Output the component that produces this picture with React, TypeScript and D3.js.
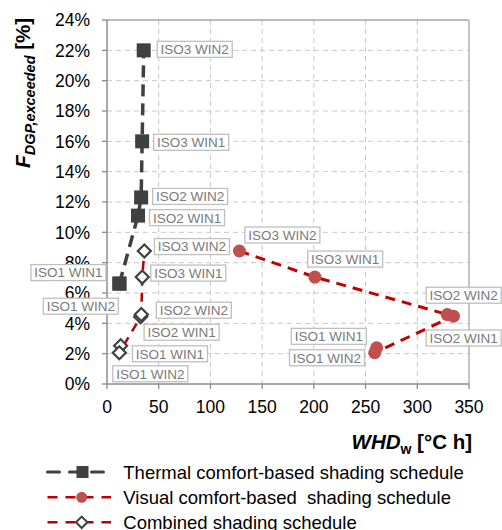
import React from "react";
import * as d3 from "d3";

// ---- data ----
const pointNames = ["ISO1 WIN1", "ISO1 WIN2", "ISO2 WIN1", "ISO2 WIN2", "ISO3 WIN1", "ISO3 WIN2"];
const thermalWHD = [12, 12, 30, 33, 34, 35.5];
const thermalFDGP = [6.62, 6.62, 11.1, 12.3, 16.0, 22.0];
const visualWHD = [260.7, 258.8, 335, 329, 201, 128];
const visualFDGP = [2.39, 2.06, 4.47, 4.58, 7.05, 8.77];
const combinedWHD = [13.2, 11.9, 32.5, 33.2, 34.1, 36.1];
const combinedFDGP = [2.52, 2.06, 4.43, 4.58, 7.05, 8.77];
const xTicks = [0, 50, 100, 150, 200, 250, 300, 350];
const yTicks = [0, 2, 4, 6, 8, 10, 12, 14, 16, 18, 20, 22, 24];
const legendLabels = [
  "Thermal comfort-based shading schedule",
  "Visual comfort-based  shading schedule",
  "Combined shading schedule",
];

// label offsets (px, label center relative to point) — layout only
const thermalLabelOff = [[-51, -11], [-38.6, 22.6], [49, 2], [49, -1], [49, 1], [51, -1]];
const visualLabelOff = [[-47.8, -11.4], [-47.7, 5], [10.2, 21.8], [16.4, -19.3], [30.3, -18], [43, -16]];
const combinedLabelOff = [[49.3, 8], [31, 21], [41, 15.4], [52.5, -4.3], [46, -4], [47.6, -4.4]];

const W = 502;
const H = 530;
const FONT = "'Liberation Sans', Arial, sans-serif";
const DARK = "#404040";
const RED_LINE = "#c00000";
const RED_MARK = "#c0504d";

type Pt = { name: string; x: number; y: number; off: number[] };

function build(xs: number[], ys: number[], offs: number[][]): Pt[] {
  return pointNames.map((n, i) => ({ name: n, x: xs[i], y: ys[i], off: offs[i] }));
}

export default function App() {
  const x = d3.scaleLinear().domain([0, 350]).range([107, 469]);
  const y = d3.scaleLinear().domain([0, 24]).range([384, 20]);

  const thermal = build(thermalWHD, thermalFDGP, thermalLabelOff);
  const visual = build(visualWHD, visualFDGP, visualLabelOff);
  const combined = build(combinedWHD, combinedFDGP, combinedLabelOff);

  const line = d3
    .line<Pt>()
    .x((d) => x(d.x))
    .y((d) => y(d.y));

  const diamond = (cx: number, cy: number, r: number) =>
    `M${cx},${cy - r}L${cx + r},${cy}L${cx},${cy + r}L${cx - r},${cy}Z`;

  const labelBox = (p: Pt, key: string) => {
    const cx = x(p.x) + p.off[0];
    const cy = y(p.y) + p.off[1];
    const bw = 75;
    const bh = 16;
    return (
      <g key={key}>
        <rect x={cx - bw / 2} y={cy - bh / 2} width={bw} height={bh} fill="#fff" stroke="#bfbfbf" strokeWidth={1.3} />
        <text x={cx} y={cy + 4.9} textAnchor="middle" fontSize={13.5} fill="#7a7a7a" fontFamily={FONT}>
          {p.name}
        </text>
      </g>
    );
  };

  const [x0, x1] = x.range();
  const [y0, y1] = y.range();

  return (
    <svg width={W} height={H} style={{ position: "absolute", left: 0, top: 0, display: "block", background: "#fff" }} fontFamily={FONT}>
      {/* grid */}
      {xTicks.slice(1, -1).map((t) => (
        <line key={"gx" + t} x1={x(t)} x2={x(t)} y1={y1} y2={y0} stroke="#c8c8c8" strokeWidth={1} strokeDasharray="5 4" />
      ))}
      {yTicks.slice(1, -1).map((t) => (
        <line key={"gy" + t} x1={x0} x2={x1} y1={y(t)} y2={y(t)} stroke="#c8c8c8" strokeWidth={1} strokeDasharray="5 4" />
      ))}
      {/* frame */}
      <line x1={x0} x2={x1} y1={y1} y2={y1} stroke="#a6a6a6" strokeWidth={1.3} />
      <line x1={x1} x2={x1} y1={y1} y2={y0} stroke="#a6a6a6" strokeWidth={1.3} />
      <line x1={x0} x2={x0} y1={y1} y2={y0} stroke="#8c8c8c" strokeWidth={1.5} />
      <line x1={x0} x2={x1} y1={y0} y2={y0} stroke="#8c8c8c" strokeWidth={1.5} />
      {/* ticks */}
      {xTicks.map((t) => (
        <g key={"xt" + t}>
          <line x1={x(t)} x2={x(t)} y1={y0} y2={y0 + 5} stroke="#8c8c8c" strokeWidth={1.3} />
          <text x={x(t)} y={412.5} textAnchor="middle" fontSize={17.5} fill="#000">
            {t}
          </text>
        </g>
      ))}
      {yTicks.map((t) => (
        <g key={"yt" + t}>
          <line x1={x0 - 5} x2={x0} y1={y(t)} y2={y(t)} stroke="#8c8c8c" strokeWidth={1.3} />
          <text x={90} y={y(t) + 6.3} textAnchor="end" fontSize={17.5} fill="#000">
            {t + "%"}
          </text>
        </g>
      ))}
      {/* axis titles */}
      <text x={472} y={448.5} textAnchor="end" fontWeight="bold" fill="#000" style={{ whiteSpace: "pre" }}>
        <tspan fontSize={20.5} fontStyle="italic">WHD</tspan>
        <tspan fontSize={14} dy={5}>w</tspan>
        <tspan fontSize={20.5} dy={-5}> [°C h]</tspan>
      </text>
      <text transform="translate(30,168) rotate(-90)" fontWeight="bold" fill="#000" style={{ whiteSpace: "pre" }}>
        <tspan fontSize={21} fontStyle="italic">F</tspan>
        <tspan fontSize={14.5} fontStyle="italic" dy={5}>DGP,exceeded</tspan>
        <tspan fontSize={20.5} dy={-5}> [%]</tspan>
      </text>

      {/* series lines */}
      <path d={line(thermal) || ""} fill="none" stroke={DARK} strokeWidth={3.5} strokeDasharray="12 7" />
      <path d={line(visual) || ""} fill="none" stroke={RED_LINE} strokeWidth={3} strokeDasharray="10 7" />
      <path d={line(combined) || ""} fill="none" stroke={RED_LINE} strokeWidth={2.5} strokeDasharray="9 7" />

      {/* markers */}
      {thermal.map((p, i) => (
        <rect key={"tm" + i} x={x(p.x) - 7} y={y(p.y) - 7} width={14} height={14} fill={DARK} />
      ))}
      {visual.map((p, i) => (
        <circle key={"vm" + i} cx={x(p.x)} cy={y(p.y)} r={6.5} fill={RED_MARK} />
      ))}
      {combined.map((p, i) => (
        <path key={"cm" + i} d={diamond(x(p.x), y(p.y), 6.5)} fill="#fff" stroke={DARK} strokeWidth={2.2} />
      ))}

      {/* labels */}
      {thermal.map((p, i) => labelBox(p, "tl" + i))}
      {visual.map((p, i) => labelBox(p, "vl" + i))}
      {combined.map((p, i) => labelBox(p, "cl" + i))}

      {/* legend */}
      {legendLabels.map((lab, i) => {
        const ly = [472, 497.3, 522.3][i];
        return (
          <g key={"lg" + i}>
            {i === 0 ? (
              <>
                <line x1={47.5} x2={104} y1={ly} y2={ly} stroke={DARK} strokeWidth={3} strokeDasharray="12 10" strokeLinecap="round" />
                <rect x={76.5} y={ly - 6} width={12} height={12} fill={DARK} />
              </>
            ) : (
              <>
                <line x1={47.5} x2={111} y1={ly} y2={ly} stroke={RED_LINE} strokeWidth={2.5} strokeDasharray="10 8" />
                {i === 1 ? (
                  <circle cx={81.7} cy={ly} r={5.5} fill={RED_MARK} />
                ) : (
                  <path d={diamond(81.7, ly, 5.7)} fill="#fff" stroke={DARK} strokeWidth={2} />
                )}
              </>
            )}
            <text x={123.3} y={ly + 6.5} fontSize={18.5} fill="#000" style={{ whiteSpace: "pre" }}>
              {lab}
            </text>
          </g>
        );
      })}
    </svg>
  );
}
